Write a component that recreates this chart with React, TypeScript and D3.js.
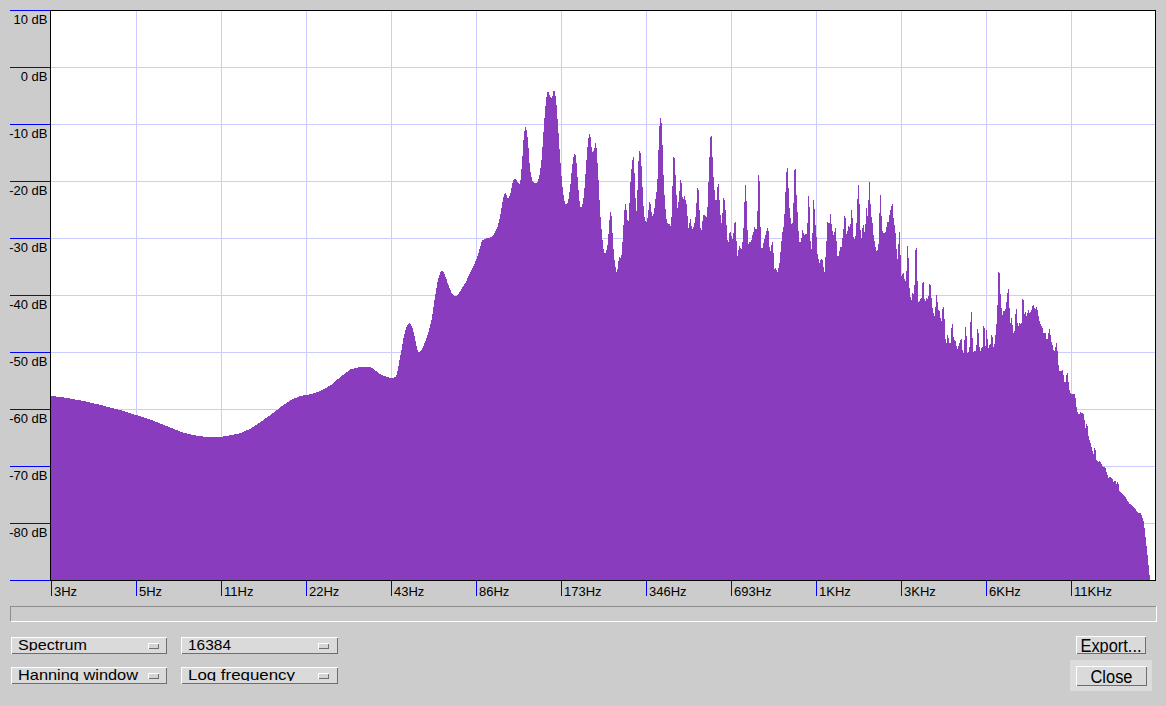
import React from 'react';
import * as d3 from 'd3';

const W = 1166;
const H = 706;

const dbTicks = [10, 0, -10, -20, -30, -40, -50, -60, -70, -80, -90];
const dbLabels = ['10 dB', '0 dB', '-10 dB', '-20 dB', '-30 dB', '-40 dB', '-50 dB', '-60 dB', '-70 dB', '-80 dB'];
const freqTicksHz = [2.6917, 5.3833, 10.7666, 21.5332, 43.0664, 86.1328, 172.2656, 344.5313, 689.0625, 1378.125, 2756.25, 5512.5, 11025];
const freqTickLabels = ['3Hz', '5Hz', '11Hz', '22Hz', '43Hz', '86Hz', '173Hz', '346Hz', '693Hz', '1KHz', '3KHz', '6KHz', '11KHz'];
const freqDomainHz = [2.69165, 22050];
const dbDomain = [10, -90];

// Spectrum readings: each band lists dB values evenly spaced (log-frequency) between its two edge frequencies
const lowBandHz = [2.69165, 43.0664];
const lowBandDb = [
  -57.7, -57.9, -58.2, -58.5, -58.9, -59.3, -59.8, -60.2, -60.8, -61.3,
  -61.9, -62.6, -63.3, -64.0, -64.5, -64.8, -64.9, -64.9, -64.6, -64.2,
  -63.4, -62.2, -61.0, -59.6, -58.4, -57.7, -57.4, -56.8, -55.8, -54.3,
  -53.0, -52.6, -52.7, -54.0, -54.6,
];

const midBandHz = [43.419, 236.77];
const midBandDb = [
  -54.6, -54.5, -54.3, -53.0, -51.0, -49.1, -47.1, -45.8, -45.2, -44.9,
  -45.5, -46.8, -48.6, -50.0, -49.9, -49.5, -48.7, -47.9, -46.8, -45.4,
  -44.0, -41.5, -39.3, -37.3, -36.2, -35.6, -36.1, -37.0, -38.1, -39.0,
  -39.8, -40.1, -40.3, -39.9, -39.4, -38.8, -38.3, -37.7, -36.9, -36.2,
  -35.5, -34.8, -33.9, -32.9, -31.6, -30.5, -30.2, -30.1, -30.0, -29.9,
  -29.8, -29.4, -28.6, -27.8, -26.3, -24.2, -22.4, -22.1, -23.2, -22.5,
  -20.7, -19.6, -19.7, -20.3, -20.7, -17.0, -11.5, -10.3, -13.0, -18.0,
  -19.8, -20.4, -20.4, -20.0, -18.5, -15.5, -10.0, -5.8, -4.0, -5.2,
  -5.5, -3.8, -5.4, -10.3, -15.7, -20.2, -23.2, -24.2, -23.8, -21.4,
  -17.7, -15.2, -15.6, -20.5, -24.5, -24.6, -22.4, -17.5, -12.8, -11.4,
  -15.0, -14.6, -13.0, -18.0, -25.0,
];

const highBandHz = [238.71, 20996.9];
const highBandDb = [
  -27.5, -29.5, -31.3, -32.4, -32.7, -32.4, -31.8, -30.8, -28.0, -25.6,
  -25.3, -27.1, -31.0, -33.0, -34.6, -35.6, -36.2, -34.8, -33.3, -33.4,
  -33.5, -32.5, -29.0, -26.4, -23.9, -24.2, -25.8, -27.7, -26.2, -21.5,
  -19.0, -16.9, -15.7, -16.0, -21.0, -25.1, -25.3, -18.1, -14.9, -14.6,
  -15.7, -19.2, -22.8, -26.0, -26.8, -27.4, -27.1, -26.0, -24.2, -23.3,
  -24.7, -26.3, -26.0, -25.6, -24.0, -22.2, -21.6, -17.8, -11.4, -9.3,
  -8.6, -11.1, -16.3, -21.6, -23.3, -26.3, -27.1, -27.7, -27.4, -27.7,
  -28.0, -24.5, -17.5, -14.3, -17.5, -20.4, -24.5, -25.1, -22.2, -21.3,
  -18.6, -22.2, -23.3, -22.9, -22.5, -24.0, -24.2, -28.0, -28.6, -26.3,
  -27.1, -28.6, -28.3, -27.7, -27.1, -25.7, -22.2, -20.4, -22.8, -27.4,
  -29.2, -28.0, -26.0, -26.0, -26.1, -26.3, -26.3, -22.8, -17.5, -14.0,
  -10.8, -13.4, -18.1, -20.4, -22.8, -24.0, -22.8, -19.5, -21.6, -25.1,
  -26.8, -28.0, -23.3, -22.8, -24.0, -26.3, -29.2, -31.5, -29.8, -28.6,
  -29.2, -30.1, -30.4, -28.0, -26.9, -27.4, -33.6, -32.7, -31.5, -31.2,
  -32.4, -31.5, -29.8, -26.8, -20.7, -20.7, -26.3, -30.9, -31.2, -30.4,
  -30.9, -29.8, -29.2, -28.6, -27.7, -29.0, -28.0, -22.8, -15.3, -24.5,
  -31.5, -32.1, -31.5, -30.4, -29.8, -29.2, -28.3, -28.3, -29.2, -33.9,
  -30.9, -31.5, -29.8, -35.3, -35.6, -35.0, -36.2, -35.6, -35.0, -33.9,
  -31.2, -29.8, -28.0, -28.3, -23.3, -20.4, -16.6, -19.0, -23.3, -26.0,
  -26.9, -28.0, -26.8, -21.0, -15.1, -20.7, -24.0, -26.8, -30.9, -30.6,
  -30.9, -29.0, -28.3, -29.8, -29.2, -29.5, -29.2, -25.7, -19.7,
  -29.5, -31.5, -32.4, -25.8, -21.1, -28.6, -26.7, -32.7, -33.0, -34.4,
  -34.2, -33.7, -33.8, -33.9, -36.2, -35.6, -31.1, -30.1, -24.4, -30.2,
  -24.6, -26.8, -28.1, -29.5, -29.3, -28.6, -28.0, -33.0, -33.3, -33.0,
  -31.5, -31.8, -31.4, -28.6, -28.3, -24.2, -28.7, -29.8, -27.9, -28.0,
  -28.3, -26.8, -23.3, -29.5, -30.1, -30.4, -28.9, -25.8, -20.7, -20.7,
  -27.1, -30.1, -29.8, -26.8, -28.5, -29.5, -25.6, -23.8, -28.3, -18.6,
  -21.6, -26.4, -26.1, -28.6, -30.4, -30.6, -32.4, -32.3, -31.8, -30.4,
  -20.9, -23.9, -28.3, -29.2, -28.9, -29.2, -28.6, -27.7, -26.8, -27.7,
  -24.2, -26.0, -22.9, -25.2, -27.7, -27.9, -30.4, -33.3, -33.9, -28.3,
  -29.5, -36.2, -37.1, -35.6, -36.8, -37.7, -37.4, -34.3, -28.6, -38.0,
  -39.6, -40.9, -40.9, -38.5, -41.2, -35.6, -29.0, -34.3, -40.8, -41.5,
  -40.6, -40.9, -40.3, -35.6, -39.7, -41.8, -40.3, -40.6, -40.9, -39.4,
  -36.9, -39.7, -41.5, -42.9, -43.5, -43.8, -40.3, -39.7, -42.6, -42.6,
  -42.9, -45.3, -43.8, -41.3, -42.8, -45.6, -49.8, -47.0, -47.0, -47.9,
  -48.8, -47.9, -43.8, -46.4, -48.2, -47.6, -48.5, -49.5, -49.4, -48.5,
  -48.2, -47.6, -48.0, -51.2, -49.1, -46.8, -44.4, -49.9, -50.5, -49.6,
  -48.5, -41.0, -45.0, -50.2, -49.9, -49.6, -50.2, -47.3, -44.7, -48.5,
  -49.6, -50.2, -48.5, -49.6, -41.2, -50.2, -47.9, -44.4, -50.8, -47.8,
  -49.6, -47.8, -46.1, -48.8, -49.3, -47.9, -46.1, -44.1, -39.4, -32.7,
  -39.4, -40.3, -44.4, -42.6, -42.9, -42.6, -42.3, -40.3, -39.0, -38.8,
  -45.6, -44.1, -43.8, -46.7, -46.7, -46.1, -40.8, -44.1, -45.6, -45.4,
  -44.4, -45.6, -44.1, -37.5, -44.1, -42.6, -43.2, -44.1, -42.2, -43.2,
  -43.2, -42.9, -42.3, -41.4, -42.0, -42.6, -42.3, -41.9, -43.2, -44.1,
  -45.0, -45.3, -45.6, -46.1, -47.2, -46.1, -47.3, -48.2, -47.3, -46.1,
  -45.8, -48.2, -48.4, -49.1, -50.2, -49.6, -48.5, -48.2, -51.5, -53.2,
  -53.5, -53.2, -53.3, -52.9, -55.2, -55.2, -55.2, -52.9, -54.3, -56.1,
  -57.2, -57.2, -57.5, -57.2, -57.5, -57.2, -59.0, -60.2, -60.8, -60.9,
  -60.9, -60.2, -61.1, -60.2, -61.6, -62.2, -64.3, -61.1, -64.6, -64.9,
  -66.0, -66.0, -67.2, -67.5, -68.4, -65.4, -68.7, -69.2, -68.9, -69.5,
  -68.9, -69.5, -69.8, -70.1, -70.4, -70.1, -70.7, -71.3, -71.9, -72.2,
  -71.8, -72.2, -71.9, -72.7, -73.0, -72.2, -73.0, -73.3, -72.2, -74.2,
  -74.5, -74.5, -74.8, -75.1, -75.1, -75.4, -75.4, -76.0, -76.3, -76.5,
  -76.7, -76.7, -77.1, -77.1, -77.4, -77.4, -77.7, -78.0, -78.2, -78.2,
  -78.3, -78.3, -78.9, -79.2, -80.1, -81.5, -83.3, -84.7, -86.5, -88.2, -90.0,
];

const menuLabels = ['Spectrum', '16384', 'Hanning window', 'Log frequency'];
const buttonLabels = ['Export...', 'Close'];

type Pt = { f: number; db: number };
function band(hz: number[], db: number[]): Pt[] {
  const n = db.length;
  return db.map((v, i) => ({ f: hz[0] * Math.pow(hz[1] / hz[0], i / (n - 1)), db: v }));
}

const FONT = '"Liberation Sans", Arial, Helvetica, sans-serif';
const BG = '#cccccc';
const FILL = '#8a3cbe';
const GRID = '#ccccff';
const TICK = '#0000ff';

function Bevel({ x, y, w, h, fill = '#dadada' }: { x: number; y: number; w: number; h: number; fill?: string }) {
  return (
    <g shapeRendering="crispEdges">
      <rect x={x} y={y} width={w} height={h} fill={fill} />
      <path d={`M${x + 0.5},${y + h - 0.5} V${y + 0.5} H${x + w - 0.5}`} stroke="#ffffff" fill="none" />
      <path d={`M${x + w - 0.5},${y + 0.5} V${y + h - 0.5} H${x + 0.5}`} stroke="#6e6e6e" fill="none" />
    </g>
  );
}

function OptionMenu({ x, y, w, label, textLen, id }: { x: number; y: number; w: number; label: string; textLen: number; id: string }) {
  const h = 17;
  return (
    <g>
      <defs>
        <clipPath id={id}>
          <rect x={x + 1} y={y + 1} width={w - 2} height={13} />
        </clipPath>
      </defs>
      <Bevel x={x} y={y} w={w} h={h} />
      <text
        x={x + 7}
        y={y + 13}
        fontFamily={FONT}
        fontSize={15}
        fill="#000"
        clipPath={`url(#${id})`}
        textLength={textLen}
        lengthAdjust="spacingAndGlyphs"
      >
        {label}
      </text>
      <Bevel x={x + 137} y={y + 6} w={11} h={6} fill="#d4d4d4" />
    </g>
  );
}

export default function App() {
  const x = d3.scaleLog().domain(freqDomainHz).range([51, 1156]);
  const y = d3.scaleLinear().domain(dbDomain).range([10, 580]);

  const pts: Pt[] = [...band(lowBandHz, lowBandDb), ...band(midBandHz, midBandDb), ...band(highBandHz, highBandDb)];
  const area = d3
    .area<Pt>()
    .x((d) => x(d.f))
    .y0(y(-90))
    .y1((d) => y(d.db))
    .curve(d3.curveLinear);

  const px = (f: number) => Math.round(x(f)) + 0.5;
  const py = (v: number) => Math.round(y(v)) + 0.5;

  const textLens = [69, 43, 120, 107];

  return (
    <svg width={W} height={H} style={{ position: 'absolute', left: 0, top: 0, display: 'block' }}>
      <rect x={0} y={0} width={W} height={H} fill={BG} />
      {/* plot background */}
      <rect x={50} y={10} width={1106} height={571} fill="#ffffff" />
      {/* grid */}
      <g shapeRendering="crispEdges" stroke={GRID}>
        {freqTicksHz.slice(1).map((f) => (
          <line key={'gx' + f} x1={px(f)} x2={px(f)} y1={11} y2={580} />
        ))}
        {dbTicks.slice(1, -1).map((v) => (
          <line key={'gy' + v} x1={51} x2={1155} y1={py(v)} y2={py(v)} />
        ))}
      </g>
      {/* spectrum */}
      <path d={area(pts) || ''} fill={FILL} shapeRendering="crispEdges" />
      {/* border */}
      <rect x={50.5} y={10.5} width={1105} height={570} fill="none" stroke="#000" shapeRendering="crispEdges" />
      {/* y ticks */}
      <g shapeRendering="crispEdges" stroke={TICK}>
        {dbTicks.map((v) => (
          <line key={'ty' + v} x1={10} x2={50} y1={py(v)} y2={py(v)} />
        ))}
        {freqTicksHz.map((f) => (
          <line key={'tx' + f} x1={px(f)} x2={px(f)} y1={581} y2={596} />
        ))}
      </g>
      <g fontFamily={FONT} fontSize={13} fill="#000">
        {dbLabels.map((l, i) => (
          <text key={l} x={47.5} y={Math.round(y(dbTicks[i])) + 13.5} textAnchor="end">
            {l}
          </text>
        ))}
        {freqTickLabels.map((l, i) => (
          <text key={l} x={px(freqTicksHz[i]) + 2.5} y={595.5}>
            {l}
          </text>
        ))}
      </g>
      {/* sunken slider bar */}
      <g shapeRendering="crispEdges" fill="none">
        <path d="M10.5,621 V606.5 H1156" stroke="#8c8c8c" />
        <path d="M10.5,621.5 H1156.5 V606" stroke="#ffffff" />
      </g>
      {/* option menus */}
      <OptionMenu x={11} y={637} w={156} label={menuLabels[0]} textLen={textLens[0]} id="c0" />
      <OptionMenu x={181} y={637} w={157} label={menuLabels[1]} textLen={textLens[1]} id="c1" />
      <OptionMenu x={11} y={667} w={156} label={menuLabels[2]} textLen={textLens[2]} id="c2" />
      <OptionMenu x={181} y={667} w={157} label={menuLabels[3]} textLen={textLens[3]} id="c3" />
      {/* buttons */}
      <defs>
        <clipPath id="cExport">
          <rect x={1077} y={637} width={68} height={16} />
        </clipPath>
      </defs>
      <Bevel x={1076} y={636} w={70} h={18} />
      <text
        x={1111}
        y={652}
        textAnchor="middle"
        fontFamily={FONT}
        fontSize={18}
        textLength={61}
        lengthAdjust="spacingAndGlyphs"
        clipPath="url(#cExport)"
      >
        {buttonLabels[0]}
      </text>
      <rect x={1070} y={660} width={82} height={31} fill="#dcdcdc" />
      <Bevel x={1076} y={666} w={71} h={20} />
      <text
        x={1111.5}
        y={682.5}
        textAnchor="middle"
        fontFamily={FONT}
        fontSize={18}
        textLength={42}
        lengthAdjust="spacingAndGlyphs"
      >
        {buttonLabels[1]}
      </text>
    </svg>
  );
}
